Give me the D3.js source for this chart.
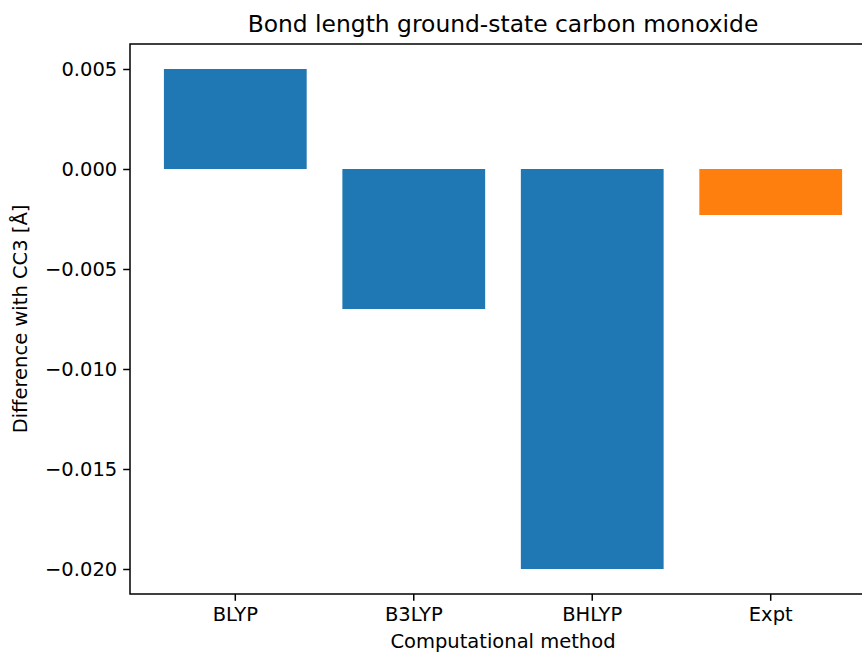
<!DOCTYPE html>
<html>
<head>
<meta charset="utf-8">
<script src="https://cdn.jsdelivr.net/npm/d3@7"></script>
<style>
	body { margin: 0; background: #fff; }
	svg { display: block; font-family: "DejaVu Sans", sans-serif; }
</style>
</head>
<body>
<script>
// chart data
let methods = ["BLYP", "B3LYP", "BHLYP", "Expt"];
let diffs = [0.005, -0.007, -0.020, -0.0023];
let barColors = ["#1f77b4", "#1f77b4", "#1f77b4", "#ff7f0e"];
let yTicks = [0.005, 0.000, -0.005, -0.010, -0.015, -0.020];

let width = 862;
let height = 653;
let axLeft = 130, axRight = 876, axTop = 44, axBottom = 594;

let svg = d3.select("body").append("svg").attr("width", width).attr("height", height);

let xScale = d3.scaleBand()
				.domain(methods)
				.range([axLeft, axRight])
				.paddingInner(0.2)
				.paddingOuter(0.19);

// matplotlib style 5% margin around data range
let yMin = d3.min(diffs), yMax = d3.max(diffs.concat([0]));
let pad = (yMax - yMin) * 0.05;
let yScale = d3.scaleLinear()
				.domain([yMin - pad, yMax + pad])
				.range([axBottom, axTop]);

svg.selectAll("rect.bar").data(diffs)
	.enter()
	.append("rect")
	.attr("class", "bar")
	.attr("x", (d, i) => xScale(methods[i]))
	.attr("y", (d) => yScale(Math.max(0, d)))
	.attr("width", xScale.bandwidth())
	.attr("height", (d) => Math.abs(yScale(d) - yScale(0)))
	.attr("fill", (d, i) => barColors[i]);

let xAxis = d3.axisBottom(xScale).tickSize(6.8).tickPadding(6).tickSizeOuter(0);
let yAxis = d3.axisLeft(yScale).tickValues(yTicks).tickFormat(d3.format(".3f")).tickSize(6.8).tickPadding(6).tickSizeOuter(0);

let gx = svg.append("g")
	.attr("transform", `translate(0,${axBottom})`)
	.call(xAxis);
gx.select(".domain").remove();
gx.selectAll("text").attr("font-size", 19.5).attr("fill", "#000").attr("font-family", "DejaVu Sans");
gx.selectAll("line").attr("stroke-width", 1.5);

let gy = svg.append("g")
	.attr("transform", `translate(${axLeft},0)`)
	.call(yAxis);
gy.select(".domain").remove();
gy.selectAll("text").attr("font-size", 19.5).attr("fill", "#000").attr("font-family", "DejaVu Sans");
gy.selectAll("line").attr("stroke-width", 1.5);

// spines
svg.append("rect")
	.attr("x", axLeft)
	.attr("y", axTop)
	.attr("width", axRight - axLeft)
	.attr("height", axBottom - axTop)
	.attr("fill", "none")
	.attr("stroke", "#000")
	.attr("stroke-width", 1.5);

svg.append("text")
	.attr("x", (axLeft + axRight) / 2)
	.attr("y", 32)
	.attr("text-anchor", "middle")
	.attr("font-size", 23.4)
	.text("Bond length ground-state carbon monoxide");

svg.append("text")
	.attr("x", (axLeft + axRight) / 2)
	.attr("y", 648)
	.attr("text-anchor", "middle")
	.attr("font-size", 19.5)
	.text("Computational method");

svg.append("text")
	.attr("transform", `translate(27,${(axTop + axBottom) / 2}) rotate(-90)`)
	.attr("text-anchor", "middle")
	.attr("font-size", 19.5)
	.text("Difference with CC3 [Å]");
</script>
</body>
</html>
